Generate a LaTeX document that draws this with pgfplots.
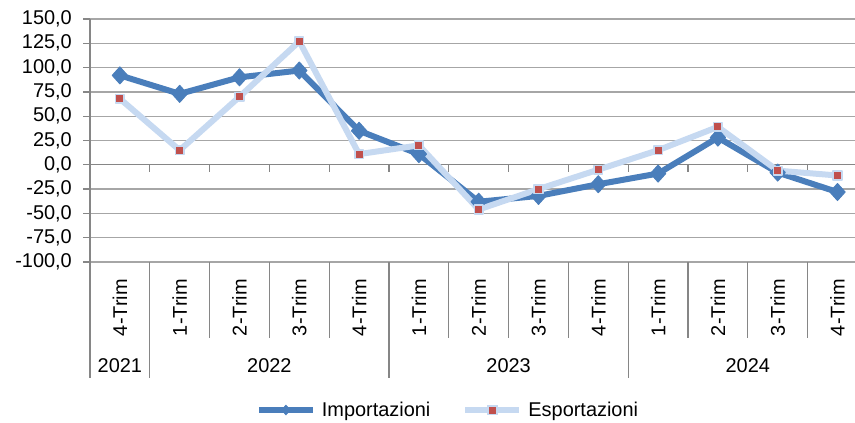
\documentclass[border=0pt]{standalone}
\usepackage{pgfplots}
\pgfplotsset{compat=1.18}
\usepackage{fontspec}
\setmainfont{Liberation Sans}
\definecolor{imp}{HTML}{4A7EBB}
\definecolor{exp}{HTML}{C6D9F1}
\definecolor{expm}{HTML}{C0504D}
\definecolor{gridc}{HTML}{A6A6A6}
\definecolor{axc}{HTML}{868686}
\newcommand{\lbl}{\fontsize{20}{24}\selectfont}
\begin{document}
\begin{tikzpicture}
\begin{axis}[
  width=777.4bp, height=243bp, scale only axis,
  xmin=-0.5, xmax=12.5, ymin=-100, ymax=150,
  clip=false,
  axis y line*=left, axis x line*=bottom,
  x axis line style={draw=none},
  y axis line style={draw=axc, line width=1.3bp, -},
  ytick={-100,-75,...,150},
  ymajorgrids, grid style={gridc, line width=1.3bp},
  y tick style={draw=axc, line width=1.3bp},
  tick align=outside, major tick length=7bp,
  x tick style={draw=none},
  xtick={0,...,12},
  xticklabels={4-Trim,1-Trim,2-Trim,3-Trim,4-Trim,1-Trim,2-Trim,3-Trim,4-Trim,1-Trim,2-Trim,3-Trim,4-Trim},
  xticklabel style={yshift=-10bp, rotate=90, anchor=east, inner sep=0pt, font=\lbl},
  yticklabel style={anchor=east, inner sep=0pt, font=\lbl, xshift=-11bp},
  /pgf/number format/.cd, assume math mode=true, fixed, fixed zerofill, precision=1, use comma,
  /pgfplots/.cd,
  legend columns=2,
  legend style={at={(axis description cs:0.4605,0)}, anchor=center, yshift=-148bp,
    draw=none, fill=none, font=\lbl, inner sep=0pt,
    /tikz/every even column/.append style={column sep=30bp},
    /tikz/every odd column/.append style={column sep=4bp}},
  legend image code/.code={\draw[mark repeat=2,mark phase=2,#1] plot coordinates {(0bp,0bp)(27bp,0bp)(54bp,0bp)};},
]
% zero axis line with ticks
\draw[axc, line width=1.3bp] (axis cs:-0.5,0) -- (axis cs:12.5,0);
\pgfplotsinvokeforeach{0.5,1.5,2.5,3.5,4.5,5.5,6.5,7.5,8.5,9.5,10.5,11.5}{
  \draw[axc, line width=1.3bp] (axis cs:#1,0) -- ++(0bp,-7bp);
}
% category separators below
\pgfplotsinvokeforeach{-0.5,0.5,4.5,8.5}{
  \draw[axc, line width=1.3bp] (axis cs:#1,-100) -- ++(0bp,-116bp);
}
\pgfplotsinvokeforeach{1.5,2.5,3.5,5.5,6.5,7.5,9.5,10.5,11.5}{
  \draw[axc, line width=1.3bp] (axis cs:#1,-100) -- ++(0bp,-76bp);
}
\node[font=\lbl] at (axis cs:0,-100) [yshift=-104bp] {2021};
\node[font=\lbl] at (axis cs:2.5,-100) [yshift=-104bp] {2022};
\node[font=\lbl] at (axis cs:6.5,-100) [yshift=-104bp] {2023};
\node[font=\lbl] at (axis cs:10.5,-100) [yshift=-104bp] {2024};

\addplot[imp, line width=6bp, line join=round, mark=diamond*, mark size=8.5bp,
  mark options={xscale=1.2, fill=imp, draw=imp, line width=1bp}, forget plot]
  coordinates {(0,92) (1,73) (2,90) (3,97) (4,35) (5,11) (6,-38) (7,-32) (8,-20) (9,-9) (10,28) (11,-8) (12,-28)};
\addplot[exp, line width=6bp, line join=round, mark=square*, mark size=4.3bp,
  mark options={fill=expm, draw=exp, line width=1.6bp}, forget plot]
  coordinates {(0,68) (1,15) (2,70) (3,127) (4,11) (5,20) (6,-46) (7,-25) (8,-5) (9,15) (10,39) (11,-6) (12,-11)};

\addlegendimage{imp, line width=6bp, mark=diamond*, mark size=5bp, mark options={xscale=1.2, fill=imp, draw=imp, line width=0.5bp}}
\addlegendentry{Importazioni}
\addlegendimage{exp, line width=6bp, mark=square*, mark size=4.3bp, mark options={fill=expm, draw=exp, line width=1.6bp}}
\addlegendentry{Esportazioni}
\end{axis}
\pgfresetboundingbox
\path ([xshift=-90bp,yshift=-161bp]current axis.south west) rectangle ([xshift=765bp,yshift=19bp]current axis.north west);
\end{tikzpicture}
\end{document}
